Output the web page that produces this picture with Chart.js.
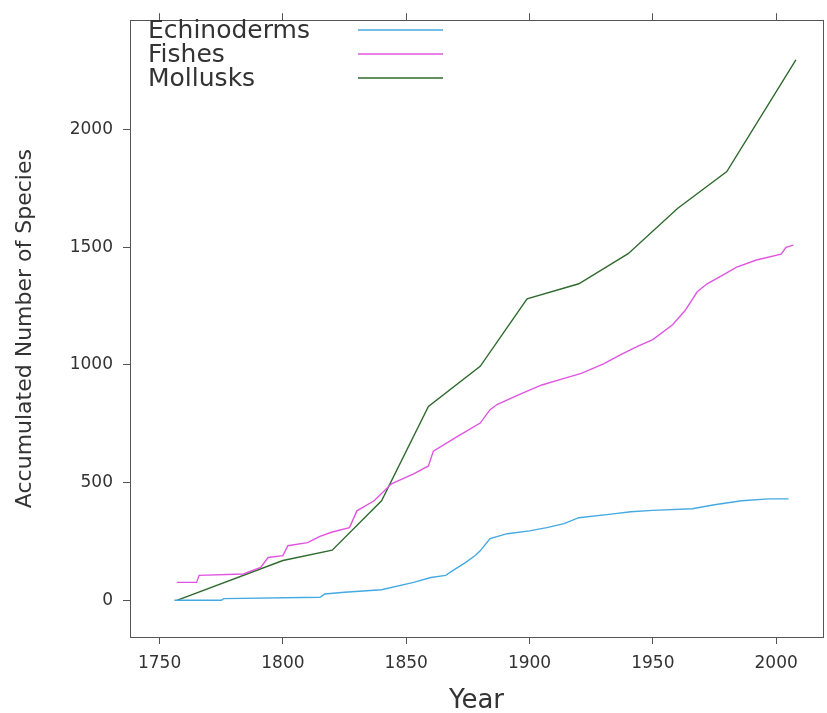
<!DOCTYPE html>
<html>
<head>
<meta charset="utf-8">
<script src="https://cdn.jsdelivr.net/npm/chart.js@4"></script>
<style>
  html, body { margin: 0; padding: 0; background: #fff; }
  #wrap { width: 827px; height: 713px; }
</style>
</head>
<body>
<div id="wrap"><canvas id="speciesChart"></canvas></div>
<script>
const echinoYears = [1756, 1775, 1776, 1815, 1817, 1825, 1840, 1853, 1860, 1866, 1869, 1874, 1878, 1880, 1884, 1891, 1900, 1907, 1914, 1920, 1934, 1941, 1950, 1966, 1975, 1986, 1997, 2005];
const echinoCounts = [0, 0, 7, 13, 27, 34, 45, 76, 97, 106, 127, 160, 190, 210, 262, 283, 295, 309, 326, 351, 367, 376, 382, 389, 406, 423, 431, 431];

const fishYears = [1757, 1765, 1766, 1784, 1791, 1794, 1800, 1802, 1810, 1815, 1820, 1827, 1830, 1837, 1844, 1853, 1859, 1861, 1871, 1880, 1884, 1887, 1896, 1905, 1913, 1921, 1930, 1937, 1944, 1950, 1958, 1963, 1968, 1972, 1978, 1984, 1992, 2002, 2004, 2007];
const fishCounts = [76, 76, 106, 112, 140, 182, 190, 232, 245, 272, 290, 309, 380, 423, 495, 537, 571, 634, 698, 753, 810, 833, 875, 915, 940, 964, 1005, 1044, 1080, 1108, 1171, 1230, 1311, 1345, 1380, 1416, 1446, 1471, 1500, 1509];

const molluskYears = [1757, 1800, 1820, 1840, 1859, 1880, 1899, 1920, 1940, 1960, 1980, 2008];
const molluskCounts = [0, 169, 213, 423, 824, 994, 1281, 1345, 1473, 1665, 1822, 2296];

const yearTicks = [1750, 1800, 1850, 1900, 1950, 2000];
const countTicks = [0, 500, 1000, 1500, 2000];

const seriesNames = ['Echinoderms', 'Fishes', 'Mollusks'];
const seriesColors = ['#45aae2', '#e055e0', '#2f6b2f'];

const FONT = "'DejaVu Sans', sans-serif";
const AXIS = '#555';
const TEXT = '#333';

function toPoints(xs, ys) {
  return xs.map((x, i) => ({ x: x, y: ys[i] }));
}

function fixTicks(values) {
  return scale => { scale.ticks = values.map(v => ({ value: v })); };
}

// legend drawn inside the panel, lattice style (text left, line sample right)
const panelKey = {
  id: 'panelKey',
  afterDraw(chart) {
    const ctx = chart.ctx;
    ctx.save();
    ctx.font = '25px ' + FONT;
    ctx.textBaseline = 'middle';
    chart.data.datasets.forEach((ds, i) => {
      const y = 31 + i * 24;
      ctx.fillStyle = TEXT;
      ctx.fillText(ds.label, 148, y);
      ctx.strokeStyle = ds.borderColor;
      ctx.lineWidth = 1.5;
      ctx.beginPath();
      ctx.moveTo(358, y - 1);
      ctx.lineTo(443, y - 1);
      ctx.stroke();
    });
    ctx.restore();
  }
};

const sideAxis = {
  grid: { display: true, drawOnChartArea: false, drawTicks: true, tickLength: 7, color: AXIS },
  border: { display: true, color: AXIS, width: 1 }
};

new Chart(document.getElementById('speciesChart').getContext('2d'), {
  type: 'line',
  data: {
    datasets: [
      { label: seriesNames[0], data: toPoints(echinoYears, echinoCounts), borderColor: seriesColors[0] },
      { label: seriesNames[1], data: toPoints(fishYears, fishCounts), borderColor: seriesColors[1] },
      { label: seriesNames[2], data: toPoints(molluskYears, molluskCounts), borderColor: seriesColors[2] }
    ]
  },
  options: {
    responsive: true,
    maintainAspectRatio: false,
    animation: false,
    layout: { padding: 0 },
    elements: {
      line: { borderWidth: 1.4, tension: 0, fill: false },
      point: { radius: 0 }
    },
    plugins: {
      legend: { display: false },
      tooltip: { enabled: false }
    },
    scales: {
      x: {
        type: 'linear', position: 'bottom', min: 1738, max: 2019,
        afterBuildTicks: fixTicks(yearTicks),
        afterFit: s => { s.height = 76; },
        ticks: { color: TEXT, font: { family: FONT, size: 17 }, padding: 9, maxRotation: 0, callback: v => String(v) },
        title: { display: true, text: 'Year', color: TEXT, font: { family: FONT, size: 26 }, padding: { top: 0, bottom: -4 } },
        ...sideAxis
      },
      x2: {
        type: 'linear', position: 'top', min: 1738, max: 2019,
        afterBuildTicks: fixTicks(yearTicks),
        afterFit: s => { s.height = 16; },
        ticks: { display: false },
        ...sideAxis
      },
      y: {
        type: 'linear', position: 'left', min: -156, max: 2465,
        afterBuildTicks: fixTicks(countTicks),
        afterFit: s => { s.width = 130; },
        ticks: { color: TEXT, font: { family: FONT, size: 17 }, padding: 10, callback: v => String(v) },
        title: { display: true, text: 'Accumulated Number of Species', color: TEXT, font: { family: FONT, size: 22 }, padding: { top: 12, bottom: 0 } },
        ...sideAxis
      },
      y2: {
        type: 'linear', position: 'right', min: -156, max: 2465,
        afterFit: s => { s.width = 4; },
        ticks: { display: false },
        grid: { display: false },
        border: { display: true, color: AXIS, width: 1 }
      }
    }
  },
  plugins: [panelKey]
});
</script>
</body>
</html>
